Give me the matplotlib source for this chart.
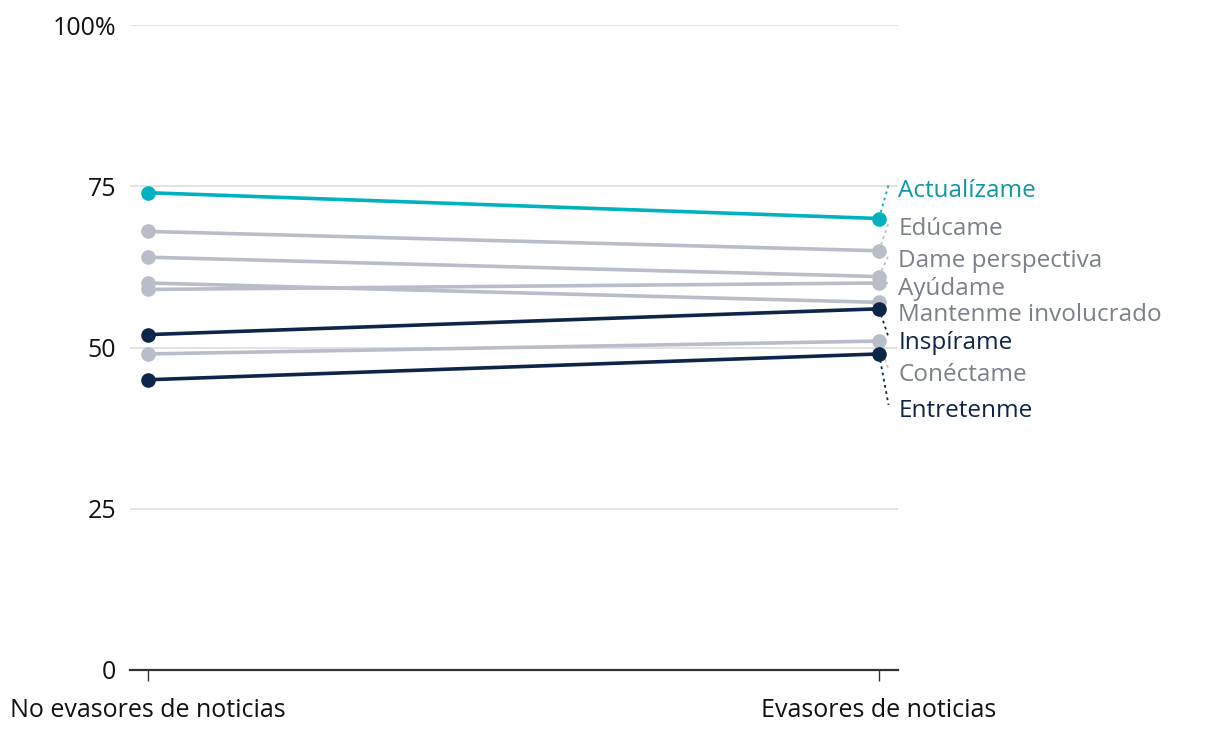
import matplotlib.pyplot as plt

plt.rcParams['font.family'] = ['Open Sans', 'DejaVu Sans']

# groups and values (%)
groups = ['No evasores de noticias', 'Evasores de noticias']
needs = ['Actualízame', 'Edúcame', 'Dame perspectiva', 'Ayúdame',
         'Mantenme involucrado', 'Inspírame', 'Conéctame', 'Entretenme']
no_avoiders = [74, 68, 64, 59, 60, 52, 49, 45]
avoiders = [70, 65, 61, 60, 57, 56, 51, 49]
label_y = [74.3, 68.4, 63.4, 59.1, 55.0, 50.7, 45.7, 40.2]
kind = ['teal', 'grey', 'grey', 'grey', 'grey', 'navy', 'grey', 'navy']

line_col = {'teal': '#00b2bf', 'grey': '#b9bdc9', 'navy': '#0c2549'}
text_col = {'teal': '#0b98a3', 'grey': '#7b808d', 'navy': '#0c2549'}
zorder = {'grey': 2, 'navy': 3, 'teal': 4}

fig = plt.figure(figsize=(12.2, 7.36), dpi=100)
ax = fig.add_axes([0.1066, 0.0897, 0.6295, 0.8763])

for i, name in enumerate(needs):
    k = kind[i]
    ax.plot([0, 1], [no_avoiders[i], avoiders[i]], color=line_col[k], lw=2.6,
            marker='o', markersize=9.5, zorder=zorder[k], solid_capstyle='round')
    ax.plot([1, 1.013], [avoiders[i], label_y[i] + 0.9], color=line_col[k],
            lw=1.3, ls=(0, (1.5, 2)), clip_on=False, zorder=1)
    ax.text(1.0265, label_y[i], name, color=text_col[k], fontsize=17.5,
            va='center', ha='left', clip_on=False)

ax.set_xlim(-0.0246, 1.026)
ax.set_ylim(0, 100)
ax.set_yticks([0, 25, 50, 75, 100])
ax.set_yticklabels(['0', '25', '50', '75', '100%'])
ax.set_xticks([0, 1])
ax.set_xticklabels(groups)
ax.tick_params(axis='y', length=0, pad=10, labelsize=18, labelcolor='#111111')
ax.tick_params(axis='x', length=8, width=1, color='#333333', pad=12,
               labelsize=18, labelcolor='#111111')
ax.grid(axis='y', color='#e2e2e2', lw=1.4, zorder=0)
ax.set_axisbelow(True)
for s in ['top', 'right', 'left']:
    ax.spines[s].set_visible(False)
ax.spines['bottom'].set_color('#333333')
ax.spines['bottom'].set_linewidth(1.6)

fig.savefig('out.png', dpi=100)
